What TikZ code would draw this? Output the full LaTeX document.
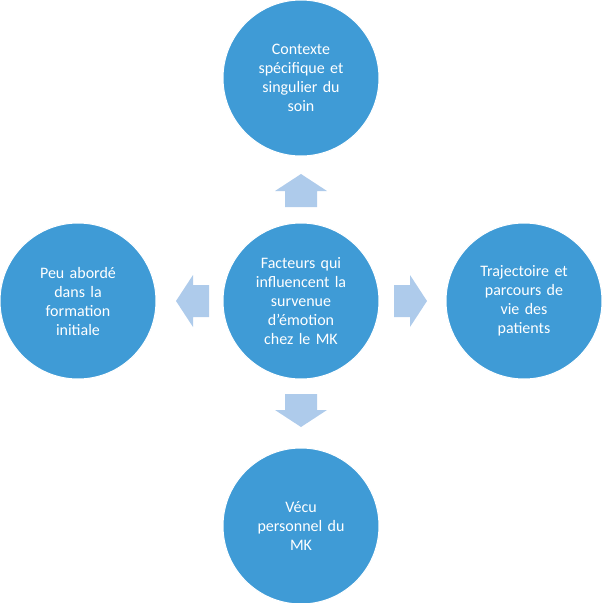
\documentclass[tikz,border=0pt]{standalone}
\usepackage{fontspec}
\setmainfont{Carlito}
\begin{document}
\begin{tikzpicture}[x=1pt,y=-1pt,
  circ/.style={circle,fill=cblue,draw=white,line width=1pt,minimum size=156pt,inner sep=0pt,text=white,font=\fontsize{16}{19}\selectfont,align=center,text width=110pt},
  arr/.style={fill=ablue,draw=none}]
\definecolor{cblue}{HTML}{3F9BD6}
\definecolor{ablue}{HTML}{AECBEB}
\useasboundingbox (0,0) rectangle (602,603);
\node[circ] (c) at (301,301) {Facteurs qui\\influencent la\\survenue\\d'émotion\\chez le MK};
\node[circ] (t) at (301,78) {Contexte\\spécifique et\\singulier du\\soin};
\node[circ] (l) at (78,301) {Peu abordé\\dans la\\formation\\initiale};
\node[circ] (r) at (524,301) {Trajectoire et\\parcours de\\vie des\\patients};
\node[circ] (b) at (301,526) {Vécu\\personnel du\\MK};
\foreach \a/\x/\y in {0/301/190.5, 90/192.5/301, -90/410.5/301, 180/301/410.5}{
  \fill[ablue,shift={(\x,\y)},rotate=\a] (0,-16.5) -- (26,0.5) -- (16,0.5) -- (16,16.5) -- (-16,16.5) -- (-16,0.5) -- (-26,0.5) -- cycle;
}
\end{tikzpicture}
\end{document}
